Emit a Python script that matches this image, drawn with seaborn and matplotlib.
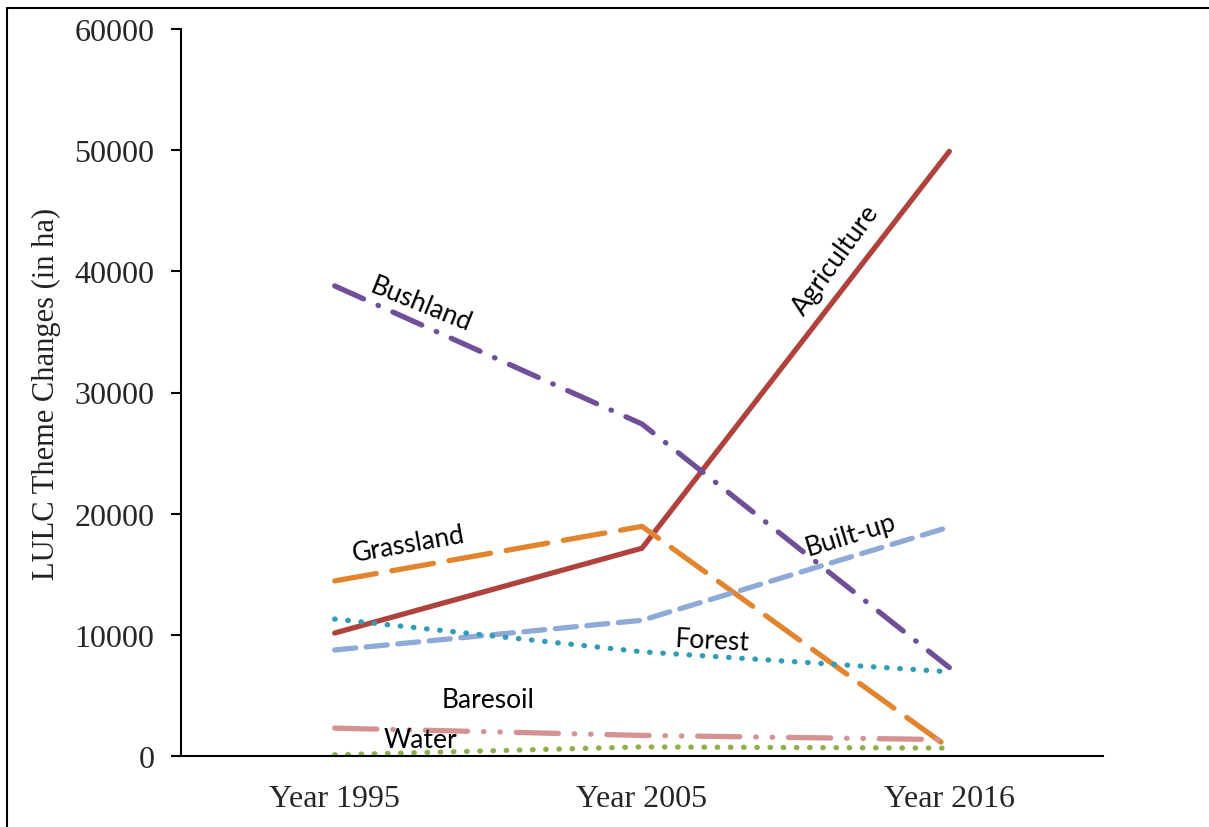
import matplotlib
matplotlib.use("Agg")
import matplotlib.pyplot as plt
import seaborn as sns
import pandas as pd
from matplotlib.lines import Line2D

years = ["Year 1995", "Year 2005", "Year 2016"]
agriculture = [10150, 17150, 49900]
bushland = [38800, 27400, 7300]
grassland = [14450, 18950, 650]
builtup = [8750, 11200, 18900]
forest = [11300, 8600, 6950]
baresoil = [2300, 1700, 1350]
water = [100, 750, 650]

series_names = ["Agriculture", "Bushland", "Grassland", "Built-up", "Forest", "Baresoil", "Water"]
series_vals = [agriculture, bushland, grassland, builtup, forest, baresoil, water]

rows = []
for name, vals in zip(series_names, series_vals):
    for i, v in enumerate(vals):
        rows.append({"series": name, "pos": i, "value": v})
df = pd.DataFrame(rows)

colors = {
    "Agriculture": "#B0423E",
    "Bushland": "#6E4F98",
    "Grassland": "#E3852F",
    "Built-up": "#8FAAD7",
    "Forest": "#2F9DB8",
    "Baresoil": "#D49392",
    "Water": "#8EB04C",
}
dashes = {
    "Agriculture": (None, None),
    "Bushland": (6, 3, 0.1, 3),
    "Grassland": (8, 3),
    "Built-up": (4, 2),
    "Forest": (0.1, 2.4),
    "Baresoil": (8, 3, 0.1, 3, 0.1, 3),
    "Water": (0.1, 2.4),
}

sns.set_style("white")
plt.rcParams["font.family"] = ["Liberation Serif", "DejaVu Serif"]

fig = plt.figure(figsize=(12.09, 8.28), dpi=100)
ax = fig.add_axes([181/1209, 1-757/828, (1103-181)/1209, (757-30)/828])

lw = 3.8
for name in series_names:
    sub = df[df.series == name]
    sns.lineplot(data=sub, x="pos", y="value", ax=ax, color=colors[name],
                 linewidth=lw, legend=False)
    line = ax.lines[-1]
    d = dashes[name]
    if d[0] is not None:
        line.set_dashes(d)
        line.set_dash_capstyle("round")
    line.set_solid_capstyle("round")
    line.set_solid_joinstyle("miter")

ax.set_xlim(-0.5, 2.5)
ax.set_ylim(0, 60000)
ax.set_yticks(range(0, 60001, 10000))
ax.set_xticks([0, 1, 2])
ax.set_xticklabels(years)
ax.set_xticks([-0.5, 0.5, 1.5, 2.5], minor=True)
ax.tick_params(axis="x", which="major", length=0, pad=20, labelsize=23)
ax.tick_params(axis="x", which="minor", length=9, width=1.5, direction="out", color="black")
ax.tick_params(axis="y", which="major", length=7, width=1.5, direction="out", color="black",
               labelsize=23, pad=12, left=True)
ax.set_xlabel("")
ax.set_ylabel("LULC Theme Changes (in ha)", fontsize=22, labelpad=10, color="#222222")
for s in ["top", "right"]:
    ax.spines[s].set_visible(False)
for s in ["left", "bottom"]:
    ax.spines[s].set_color("black")
    ax.spines[s].set_linewidth(1.5)
ax.grid(False)

lab_font = dict(family=["Lato", "DejaVu Sans"], fontsize=19, color="black",
                ha="center", va="center", rotation_mode="anchor")
labels = [
    ("Bushland", 0.28, 37300, -22),
    ("Grassland", 0.24, 17500, 10),
    ("Agriculture", 1.63, 41000, 54),
    ("Built-up", 1.68, 18300, 17),
    ("Forest", 1.23, 9500, -3),
    ("Baresoil", 0.50, 4700, 0),
    ("Water", 0.28, 1400, 0),
]
for txt, x, y, rot in labels:
    ax.text(x, y, txt, rotation=rot, **lab_font)

# outer frame (left and top edges visible)
fig.add_artist(Line2D([7/1209, 7/1209], [0, 1-9/828], transform=fig.transFigure,
                      color="black", linewidth=1.5))
fig.add_artist(Line2D([7/1209, 1], [1-9/828, 1-9/828], transform=fig.transFigure,
                      color="black", linewidth=1.5))

fig.savefig("out.png", dpi=100)
